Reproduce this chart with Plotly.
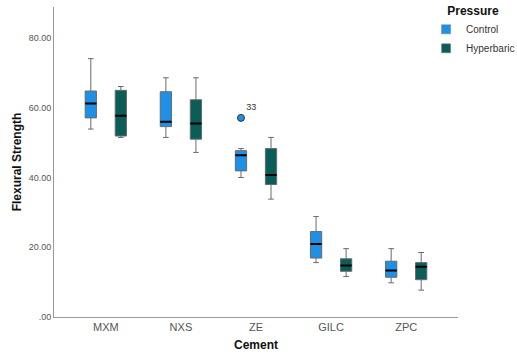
import plotly.graph_objects as go

cements = ["MXM", "NXS", "ZE", "GILC", "ZPC"]

# Control statistics
ctrl_low = [53.9, 51.5, 40.0, 15.6, 9.8]
ctrl_q1 = [57.1, 54.6, 41.9, 16.9, 11.4]
ctrl_med = [61.2, 56.0, 46.4, 20.9, 13.3]
ctrl_q3 = [64.8, 64.6, 47.7, 24.5, 16.0]
ctrl_high = [74.1, 68.6, 48.3, 28.8, 19.6]

# Hyperbaric statistics
hyp_low = [51.5, 47.2, 33.8, 11.6, 7.7]
hyp_q1 = [51.9, 51.0, 38.0, 13.1, 10.7]
hyp_med = [57.7, 55.5, 40.7, 14.8, 14.4]
hyp_q3 = [65.0, 62.3, 48.3, 16.7, 15.6]
hyp_high = [66.1, 68.6, 51.5, 19.6, 18.5]

# Outlier (Control, ZE)
out_cat = ["ZE"]
out_val = [57.1]
out_label = ["33"]

ctrl_color = "#1E90E6"
hyp_color = "#0B5D58"
offset = 0.2
bw = 0.15

idx = {c: i for i, c in enumerate(cements)}
xc = [i - offset for i in range(len(cements))]
xh = [i + offset for i in range(len(cements))]

fig = go.Figure()
for name, xs, lo, q1, med, q3, hi, col in (
        ("Control", xc, ctrl_low, ctrl_q1, ctrl_med, ctrl_q3, ctrl_high, ctrl_color),
        ("Hyperbaric", xh, hyp_low, hyp_q1, hyp_med, hyp_q3, hyp_high, hyp_color)):
    fig.add_trace(go.Box(
        name=name, x=xs, q1=q1, median=med, q3=q3,
        lowerfence=lo, upperfence=hi, width=bw,
        fillcolor=col, line=dict(color="#6a6a6a", width=1),
        whiskerwidth=0.5, boxpoints=False, hoverinfo="skip", showlegend=False))
    fig.add_trace(go.Box(
        x=xs, q1=med, median=med, q3=med, lowerfence=med, upperfence=med,
        width=bw, line=dict(color="black", width=2), fillcolor="rgba(0,0,0,0)",
        whiskerwidth=0, boxpoints=False, showlegend=False, hoverinfo="skip"))
    fig.add_trace(go.Scatter(
        name=name, x=[None], y=[None], mode="markers",
        marker=dict(symbol="square", size=9, color=col, line=dict(color="#777", width=0.5)),
        showlegend=True))

fig.add_trace(go.Scatter(
    x=[idx[c] - offset for c in out_cat], y=out_val, mode="markers+text",
    text=out_label, textposition="top right",
    textfont=dict(size=9, color="#333"),
    marker=dict(color=ctrl_color, size=7, line=dict(color="#333", width=1)),
    showlegend=False, hoverinfo="skip"))

fig.update_layout(
    width=517, height=360,
    margin=dict(l=54, r=59, t=7, b=43, autoexpand=False),
    paper_bgcolor="white", plot_bgcolor="white",
    font=dict(family="Liberation Sans, Arial, sans-serif", size=10, color="#444"),
    showlegend=True,
    legend=dict(
        x=0.921, xanchor="left", y=1.025, yanchor="top",
        title=dict(text="<b>Pressure</b>", font=dict(size=12, color="#111"), side="top center"),
        font=dict(size=10, color="#333"), itemwidth=30,
        tracegroupgap=0, bgcolor="rgba(255,255,255,0)",
    ),
    xaxis=dict(
        range=[-0.69, 4.69], tickvals=list(range(len(cements))), ticktext=cements,
        showgrid=False, zeroline=False, showline=True, linecolor="#999", linewidth=1,
        ticks="", tickfont=dict(size=11, color="#555"), automargin=False,
        title=dict(text="<b>Cement</b>", font=dict(size=12, color="#111"), standoff=8),
    ),
    yaxis=dict(
        range=[0, 88.9], tickvals=[0, 20, 40, 60, 80],
        ticktext=[".00", "20.00", "40.00", "60.00", "80.00"],
        showgrid=False, zeroline=False, showline=True, linecolor="#999", linewidth=1,
        ticks="", tickfont=dict(size=9, color="#555"), automargin=False,
        title=dict(text="<b>Flexural Strength</b>", font=dict(size=12, color="#111"), standoff=4),
    ),
)

fig.write_html("out.html", config={"displayModeBar": False},
               post_script="document.body.style.margin='0';document.body.style.padding='0';")
